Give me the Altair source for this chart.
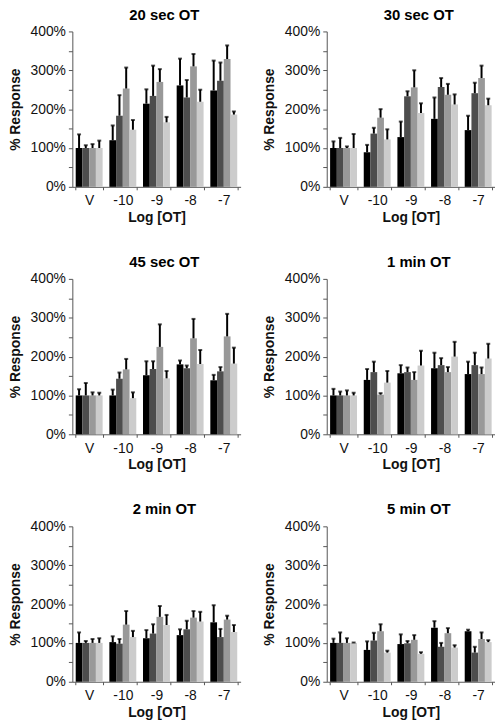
import altair as alt
import pandas as pd

titles = ["20 sec OT", "30 sec OT", "45 sec OT", "1 min OT", "2 min OT", "5 min OT"]
groups = ["V", "-10", "-9", "-8", "-7"]
series = ["A", "B", "C", "D"]
colors = ["#000000", "#4d4d4d", "#999999", "#cccccc"]
yticks = [0, 50, 100, 150, 200, 250, 300, 350, 400]

# mean values per panel: rows = groups (V, -10, -9, -8, -7), columns = series
means = {
    "20 sec OT": [[100, 100, 100, 100], [120, 183, 253, 147], [214, 234, 270, 166], [261, 230, 310, 219], [248, 273, 329, 186]],
    "30 sec OT": [[100, 100, 100, 100], [89, 137, 178, 122], [128, 233, 256, 190], [175, 257, 237, 212], [146, 241, 280, 210]],
    "45 sec OT": [[100, 100, 100, 100], [100, 143, 167, 93], [152, 168, 225, 144], [180, 170, 247, 181], [139, 162, 252, 182]],
    "1 min OT": [[100, 100, 100, 100], [140, 160, 102, 133], [157, 160, 140, 177], [170, 178, 160, 200], [155, 178, 155, 195]],
    "2 min OT": [[100, 100, 100, 100], [102, 98, 147, 115], [112, 124, 167, 146], [120, 135, 165, 155], [153, 115, 160, 128]],
    "5 min OT": [[100, 100, 100, 100], [82, 106, 130, 75], [97, 99, 108, 72], [139, 90, 125, 88], [130, 75, 110, 102]],
}
# upper error bar ends
errs = {
    "20 sec OT": [[135, 107, 110, 119], [158, 236, 307, 172], [251, 312, 303, 180], [330, 275, 342, 250], [325, 320, 364, 194]],
    "30 sec OT": [[117, 126, 104, 136], [108, 152, 200, 148], [168, 246, 300, 215], [230, 280, 265, 238], [183, 268, 312, 227]],
    "45 sec OT": [[116, 132, 108, 107], [115, 159, 194, 108], [188, 188, 283, 163], [190, 177, 297, 217], [153, 173, 310, 223]],
    "1 min OT": [[117, 110, 113, 107], [168, 187, 106, 163], [178, 172, 160, 215], [210, 196, 173, 238], [187, 210, 172, 233]],
    "2 min OT": [[127, 105, 110, 112], [117, 110, 182, 131], [133, 148, 195, 172], [135, 157, 182, 180], [197, 136, 170, 146]],
    "5 min OT": [[111, 127, 112, 101], [104, 126, 148, 80], [122, 105, 120, 76], [156, 100, 138, 94], [134, 90, 127, 107]],
}

FONT = "Liberation Sans"


def panel(title):
    rows = []
    for gi, g in enumerate(groups):
        for si, s in enumerate(series):
            rows.append({"group": g, "series": s,
                         "mean": means[title][gi][si], "err": errs[title][gi][si]})
    df = pd.DataFrame(rows)
    yscale = alt.Scale(domain=[0, 400], nice=False)
    yaxis = alt.Axis(title="% Response", values=yticks,
                     labelExpr="datum.value % 100 === 0 ? datum.value + '%' : ''",
                     labelOverlap=False, tickSize=4, grid=False, labelPadding=3,
                     titlePadding=8)
    base = alt.Chart(df).encode(
        x=alt.X("group:N", sort=groups,
                scale=alt.Scale(paddingInner=0.2, paddingOuter=0.1),
                axis=alt.Axis(title="Log [OT]", labelAngle=0, tickBand="extent",
                              tickSize=3, labelPadding=4, titlePadding=3)),
        xOffset=alt.XOffset("series:N", sort=series, scale=alt.Scale(padding=0, paddingInner=0)),
    )
    bars = base.mark_bar().encode(
        y=alt.Y("mean:Q", scale=yscale, axis=yaxis),
        color=alt.Color("series:N", scale=alt.Scale(domain=series, range=colors), legend=None),
    )
    rule = base.mark_rule(color="black", strokeWidth=2).encode(
        y=alt.Y("mean:Q", scale=yscale, axis=yaxis), y2="err:Q")
    cap = base.mark_tick(color="black", orient="horizontal", size=4, thickness=2).encode(
        y=alt.Y("err:Q", scale=yscale, axis=yaxis))
    return alt.layer(bars, rule, cap).properties(
        width=170, height=157,
        title=alt.TitleParams(title, fontSize=15, fontWeight="bold", font=FONT, anchor="middle", dx=8, offset=2),
    )


rows = []
for r in range(3):
    rows.append(alt.hconcat(panel(titles[2 * r]), panel(titles[2 * r + 1]), spacing=22))
chart = alt.vconcat(*rows, spacing=31).properties(
    padding={"left": 0, "top": -4, "right": 0, "bottom": 0}
).configure_view(stroke=None).configure_axis(
    labelFont=FONT, titleFont=FONT, labelFontSize=14, titleFontSize=14,
    titleFontWeight="bold", labelColor="#111", titleColor="#111",
    domainColor="#555", tickColor="#555", domainWidth=1,
).configure_axisY(labelOverlap=False)

chart.save("out.html", embed_options={"renderer": "svg", "actions": False})
